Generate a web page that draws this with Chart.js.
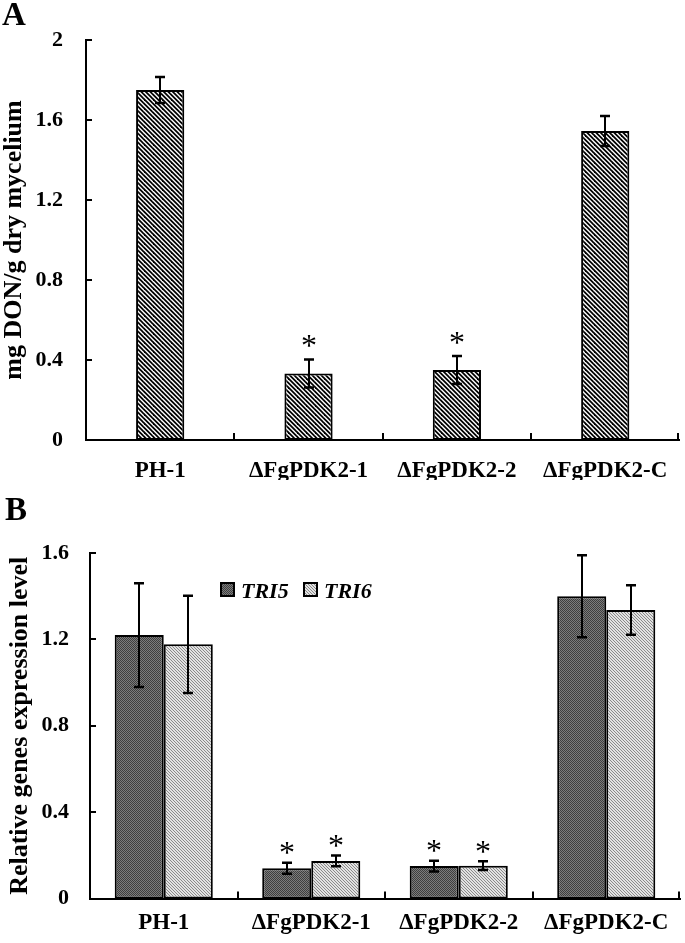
<!DOCTYPE html>
<html><head><meta charset="utf-8">
<script src="https://cdn.jsdelivr.net/npm/chart.js@4"></script>
<style>
html,body{margin:0;padding:0;background:#fff;}
body{width:685px;height:943px;position:relative;overflow:hidden;}
canvas{position:absolute;left:0;}
#cA{top:0;}
#cB{top:480px;}
</style></head><body>
<canvas id="cA" width="685" height="480"></canvas>
<canvas id="cB" width="685" height="463"></canvas>
<script>
// ---- data ----
const categories = ['PH-1', 'ΔFgPDK2-1', 'ΔFgPDK2-2', 'ΔFgPDK2-C'];
const donValues = [1.75, 0.333, 0.35, 1.545];
const donErrors = [0.065, 0.07, 0.07, 0.075];
const donSignificant = [false, true, true, false];
const yTicksA = [0, 0.4, 0.8, 1.2, 1.6, 2];
const seriesNames = ['TRI5', 'TRI6'];
const tri5Values = [1.22, 0.14, 0.15, 1.40];
const tri5Errors = [0.24, 0.025, 0.025, 0.19];
const tri5Significant = [false, true, true, false];
const tri6Values = [1.177, 0.174, 0.152, 1.336];
const tri6Errors = [0.225, 0.025, 0.02, 0.115];
const tri6Significant = [false, true, true, false];
const yTicksB = [0, 0.4, 0.8, 1.2, 1.6];

const F = '"Liberation Serif", "Times New Roman", serif';

function makePattern(w, h, draw) {
  const c = document.createElement('canvas');
  c.width = w; c.height = h;
  const x = c.getContext('2d');
  draw(x, w, h);
  return document.getElementById('cA').getContext('2d').createPattern(c, 'repeat');
}
const hatchA = makePattern(9, 9, (x, w, h) => {
  x.fillStyle = '#fff'; x.fillRect(0, 0, w, h);
  x.strokeStyle = '#000'; x.lineWidth = 1.8;
  [-9, -4.5, 0, 4.5, 9].forEach(c => {
    x.beginPath(); x.moveTo(c - 3, -3); x.lineTo(c + 12, 12); x.stroke();
  });
});
const dotsTRI5 = makePattern(2, 2, (x) => {
  x.fillStyle = '#7c7c7c'; x.fillRect(0, 0, 2, 2);
  x.fillStyle = '#3e3e3e'; x.fillRect(0, 0, 1, 1); x.fillRect(1, 1, 1, 1);
});
const hatchTRI6 = makePattern(3, 3, (x) => {
  x.fillStyle = '#e2e2e2'; x.fillRect(0, 0, 3, 3);
  x.fillStyle = '#8a8a8a'; x.fillRect(0, 0, 1, 1); x.fillRect(1, 1, 1, 1); x.fillRect(2, 2, 1, 1);
});

const decorPlugin = {
  id: 'decor',
  afterDatasetsDraw(chart, args, opts) {
    const ctx = chart.ctx, xs = chart.scales.x, ys = chart.scales.y, ca = chart.chartArea;
    ctx.save();
    ctx.strokeStyle = '#000'; ctx.lineWidth = 2; ctx.lineCap = 'butt';
    // inward tick marks
    ys.ticks.forEach(t => {
      const y = Math.round(ys.getPixelForValue(t.value));
      ctx.beginPath(); ctx.moveTo(ca.left, y); ctx.lineTo(ca.left + 6, y); ctx.stroke();
    });
    const n = xs.ticks.length;
    for (let i = 0; i < n; i++) {
      const x = i < n - 1 ? Math.round((xs.getPixelForValue(i) + xs.getPixelForValue(i + 1)) / 2) : Math.round(ca.right) - 1;
      ctx.beginPath(); ctx.moveTo(x, ca.bottom); ctx.lineTo(x, ca.bottom - 7); ctx.stroke();
    }
    // error bars and significance marks
    chart.data.datasets.forEach((ds, di) => {
      const meta = chart.getDatasetMeta(di);
      meta.data.forEach((bar, i) => {
        const v = ds.data[i], e = ds.errors[i];
        const x = Math.round(bar.x);
        const yT = ys.getPixelForValue(v + e), yB = ys.getPixelForValue(v - e);
        ctx.lineWidth = 2;
        ctx.beginPath(); ctx.moveTo(x, yT); ctx.lineTo(x, yB); ctx.stroke();
        ctx.lineWidth = 2.5;
        ctx.beginPath();
        ctx.moveTo(x - 5, yT); ctx.lineTo(x + 5, yT);
        ctx.moveTo(x - 5, yB); ctx.lineTo(x + 5, yB);
        ctx.stroke();
        if (ds.significant[i]) {
          ctx.font = opts.starSize + 'px ' + F;
          ctx.fillStyle = '#000'; ctx.textAlign = 'center'; ctx.textBaseline = 'alphabetic';
          const m = ctx.measureText('*');
          const cy = yT - opts.starGap;
          ctx.fillText('*', x, cy + (m.actualBoundingBoxAscent - m.actualBoundingBoxDescent) / 2);
        }
      });
    });
    ctx.restore();
  },
  afterDraw(chart, args, opts) {
    const ctx = chart.ctx;
    ctx.save();
    ctx.fillStyle = '#000'; ctx.textBaseline = 'alphabetic'; ctx.textAlign = 'left';
    ctx.font = 'bold 33px ' + F;
    ctx.fillText(opts.panel, opts.panelX, opts.panelY);
    if (opts.legend) {
      const L = opts.legend;
      chart.data.datasets.forEach((ds, di) => {
        const bx = L.x[di];
        ctx.fillStyle = ds.backgroundColor;
        ctx.fillRect(bx, L.y, 13, 13);
        ctx.strokeStyle = '#000'; ctx.lineWidth = 2;
        ctx.strokeRect(bx, L.y, 13, 13);
        ctx.fillStyle = '#000';
        ctx.font = 'italic bold 22px ' + F;
        ctx.fillText(ds.label, bx + 20, L.y + 15);
      });
    }
    ctx.restore();
  }
};

function commonScales(opts) {
  return {
    x: {
      grid: { display: false, drawTicks: false },
      border: { display: true, color: '#000', width: 2 },
      ticks: { font: { family: F, size: 23, weight: 'bold' }, color: '#000', padding: opts.xPad, maxRotation: 0, autoSkip: false },
      afterFit: s => { s.height = opts.xHeight; }
    },
    y: {
      min: 0, max: opts.max,
      afterBuildTicks: s => { s.ticks = opts.ticks.map(v => ({ value: v })); },
      grid: { display: false, drawTicks: false },
      border: { display: true, color: '#000', width: 2 },
      ticks: { font: { family: F, size: 22, weight: 'bold' }, color: '#000', padding: opts.yPad, callback: v => String(v) },
      title: { display: true, text: opts.title, font: { family: F, size: 26, weight: 'bold' }, color: '#000', padding: { top: opts.titlePad, bottom: 0 } },
      afterFit: s => { s.width = opts.yWidth; }
    }
  };
}

new Chart(document.getElementById('cA'), {
  type: 'bar',
  data: {
    labels: categories,
    datasets: [{
      label: 'DON', data: donValues, errors: donErrors, significant: donSignificant,
      backgroundColor: hatchA, borderColor: '#000', borderWidth: 2, borderSkipped: false,
      barPercentage: 0.325, categoryPercentage: 1
    }]
  },
  options: {
    responsive: false, animation: false, devicePixelRatio: 1,
    layout: { padding: { top: 40, right: 5, left: 0, bottom: 0 } },
    plugins: {
      legend: { display: false }, tooltip: { enabled: false },
      decor: { panel: 'A', panelX: 2, panelY: 25, starSize: 32, starGap: 18.5 }
    },
    scales: commonScales({ xPad: 17, xHeight: 40, max: 2, ticks: yTicksA, yPad: 23, title: 'mg DON/g dry mycelium', titlePad: -1, yWidth: 86 })
  },
  plugins: [decorPlugin]
});

new Chart(document.getElementById('cB'), {
  type: 'bar',
  data: {
    labels: categories,
    datasets: [{
      label: seriesNames[0], data: tri5Values, errors: tri5Errors, significant: tri5Significant,
      backgroundColor: dotsTRI5, borderColor: '#000', borderWidth: 2, borderSkipped: false,
      barPercentage: 1, categoryPercentage: 0.665
    }, {
      label: seriesNames[1], data: tri6Values, errors: tri6Errors, significant: tri6Significant,
      backgroundColor: hatchTRI6, borderColor: '#000', borderWidth: 2, borderSkipped: false,
      barPercentage: 1, categoryPercentage: 0.665
    }]
  },
  options: {
    responsive: false, animation: false, devicePixelRatio: 1,
    layout: { padding: { top: 73, right: 5, left: 0, bottom: 0 } },
    plugins: {
      legend: { display: false }, tooltip: { enabled: false },
      decor: { panel: 'B', panelX: 5, panelY: 40, starSize: 32, starGap: 14.5, legend: { x: [221, 304], y: 103 } }
    },
    scales: commonScales({ xPad: 11, xHeight: 44.5, max: 1.6, ticks: yTicksB, yPad: 21, title: 'Relative genes expression level', titlePad: 5, yWidth: 90 })
  },
  plugins: [decorPlugin]
});
</script>
</body></html>
